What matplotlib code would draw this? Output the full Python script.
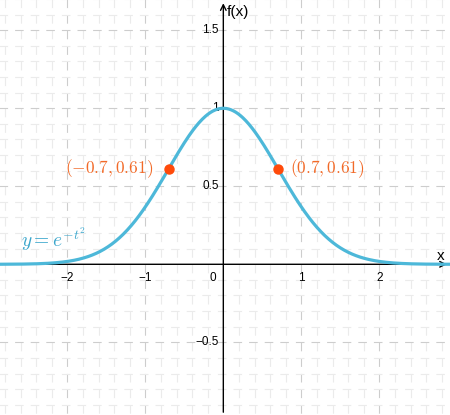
import numpy as np
import matplotlib
matplotlib.use("Agg")
import matplotlib.pyplot as plt

plt.rcParams["lines.scale_dashes"] = False
plt.rcParams["mathtext.fontset"] = "cm"

# data
x_vals = np.linspace(-3.0, 3.0, 601)
y_vals = np.exp(-x_vals ** 2)
point_x = [-0.7, 0.7]
point_y = [0.61, 0.61]
point_labels = [r"$(-0.7,0.61)$", r"$(0.7,0.61)$"]
x_ticks = [-2, -1, 1, 2]
y_ticks = [-0.5, 0.5, 1, 1.5]

XMIN, XMAX = -2.863, 2.906
YMIN, YMAX = -0.966, 1.694
W, H, DPI = 4.5, 4.15, 100

CURVE = "#4db8d9"
POINT = "#ff4a0a"
LABEL = "#f26a28"

fig = plt.figure(figsize=(W, H), dpi=DPI)
ax = fig.add_axes([0, 0, 1, 1])
ax.set_xlim(XMIN, XMAX)
ax.set_ylim(YMIN, YMAX)
ax.axis("off")

# points per data unit, used for the dash patterns of the grid
pt_x = W * 72 / (XMAX - XMIN)
pt_y = H * 72 / (YMAX - YMIN)

# grid: vertical lines every 0.2, horizontal every 0.1 (majors at 1 and 0.5)
for i in range(-15, 16):
    gx = i * 0.2
    major = i % 5 == 0
    if major and i == 0:
        continue
    ax.plot([gx, gx], [1.8, -1.1], color="#cdcdcd" if major else "#ebebeb",
            lw=0.8,
            linestyle=(0, (0.055 * pt_y, 0.045 * pt_y)), zorder=1)
for j in range(-11, 19):
    gy = j * 0.1
    major = j % 5 == 0
    if major and j == 0:
        continue
    ax.plot([-3.11, 3.2], [gy, gy], color="#cdcdcd" if major else "#ebebeb",
            lw=0.8,
            linestyle=(0, (0.11 * pt_x, 0.09 * pt_x)), zorder=1)

# axes with arrows
ax.annotate("", xy=(XMAX - 0.005, 0), xytext=(XMIN, 0),
            arrowprops=dict(arrowstyle="->", color="black", lw=1.0,
                            mutation_scale=10), zorder=3)
ax.annotate("", xy=(0, YMAX - 0.003), xytext=(0, YMIN),
            arrowprops=dict(arrowstyle="->", color="black", lw=1.0,
                            mutation_scale=10), zorder=3)
ax.text(0.045, 1.618, "f(x)", fontsize=11, family="Liberation Sans",
        ha="left", va="center")
ax.text(XMAX - 0.12, 0.055, "x", fontsize=11, family="Liberation Sans",
        ha="center", va="center")

# tick labels
for t in x_ticks:
    ax.text(t, -0.085, f"{t}".replace("-", "\u2212"), fontsize=8.5,
            family="Liberation Sans", ha="center", va="center")
ax.text(-0.13, -0.085, "0", fontsize=8.5, family="Liberation Sans",
        ha="center", va="center")
for t in y_ticks:
    ax.text(-0.06, t, f"{t:g}".replace("-", "\u2212"), fontsize=8.5,
            family="Liberation Sans", ha="right", va="center")

# curve and points
ax.plot(x_vals, y_vals, color=CURVE, lw=2.3, zorder=4, solid_capstyle="round")
ax.plot(point_x, point_y, "o", color=POINT, ms=6.5, zorder=5)
ax.text(point_x[0] - 0.2, point_y[0], point_labels[0], color=LABEL,
        fontsize=12.5, ha="right", va="center", zorder=5)
ax.text(point_x[1] + 0.16, point_y[1], point_labels[1], color=LABEL,
        fontsize=12.5, ha="left", va="center", zorder=5)
ax.text(-2.6, 0.16, r"$y = e^{-t^2}$", color="#3aa6cc", fontsize=14,
        ha="left", va="center", zorder=5)

fig.savefig("out.png", dpi=DPI)
